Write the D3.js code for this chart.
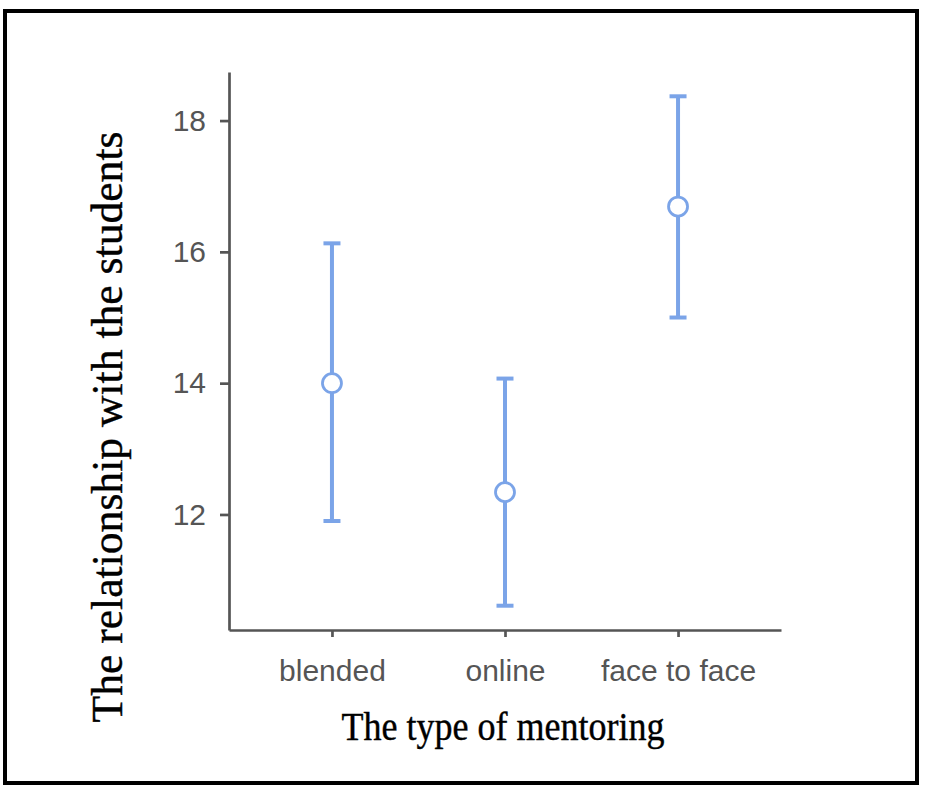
<!DOCTYPE html>
<html>
<head>
<meta charset="utf-8">
<script src="https://cdn.jsdelivr.net/npm/d3@7"></script>
<style>
  html, body { margin: 0; padding: 0; background: #fff; }
  svg { display: block; }
</style>
</head>
<body>
<svg id="chart" width="925" height="793"></svg>
<script>
const categories = ["blended", "online", "face to face"];
const means = [14.0, 12.34, 16.69];
const lower = [11.9, 10.61, 15.0];
const upper = [16.13, 14.07, 18.37];
const yTicks = [12, 14, 16, 18];
const xTitle = "The type of mentoring";
const yTitle = "The relationship with the students";

const svg = d3.select("#chart");
const blue = "#7ba4e8";
const axisGrey = "#555555";

// frame
svg.append("rect")
  .attr("x", 5).attr("y", 11).attr("width", 912).attr("height", 772)
  .attr("fill", "#fff").attr("stroke", "#000").attr("stroke-width", 4);

const x = d3.scalePoint().domain(categories).range([229, 781]).padding(0.595);
const y = d3.scaleLinear().domain([10.24, 18.74]).range([630, 72]);

// y axis
const gy = svg.append("g").attr("transform", "translate(229,0)")
  .call(d3.axisLeft(y).tickValues(yTicks).tickSize(9).tickSizeOuter(0).tickPadding(14).tickFormat(d3.format("d")));
gy.select(".domain").attr("stroke", axisGrey).attr("stroke-width", 2.7);
gy.selectAll(".tick line").attr("stroke", axisGrey).attr("stroke-width", 2.7);
gy.selectAll(".tick text").attr("fill", "#555").attr("font-family", "Liberation Sans, Arial, sans-serif").attr("font-size", 30);

// x axis
const gx = svg.append("g").attr("transform", "translate(0,630)")
  .call(d3.axisBottom(x).tickSize(7).tickSizeOuter(0).tickPadding(23));
gx.select(".domain").attr("stroke", axisGrey).attr("stroke-width", 2.7);
gx.selectAll(".tick line").attr("stroke", axisGrey).attr("stroke-width", 2.7);
gx.selectAll(".tick text").attr("fill", "#555").attr("font-family", "Liberation Sans, Arial, sans-serif").attr("font-size", 30);

const data = categories.map((c, i) => ({ c, m: means[i], lo: lower[i], hi: upper[i] }));

const g = svg.append("g");
// error bars
g.selectAll("line.bar").data(data).join("line").attr("class", "bar")
  .attr("x1", d => x(d.c)).attr("x2", d => x(d.c))
  .attr("y1", d => y(d.lo)).attr("y2", d => y(d.hi))
  .attr("stroke", blue).attr("stroke-width", 4);
g.selectAll("line.capTop").data(data).join("line").attr("class", "capTop")
  .attr("x1", d => x(d.c) - 8.5).attr("x2", d => x(d.c) + 8.5)
  .attr("y1", d => y(d.hi)).attr("y2", d => y(d.hi))
  .attr("stroke", blue).attr("stroke-width", 4);
g.selectAll("line.capBot").data(data).join("line").attr("class", "capBot")
  .attr("x1", d => x(d.c) - 8.5).attr("x2", d => x(d.c) + 8.5)
  .attr("y1", d => y(d.lo)).attr("y2", d => y(d.lo))
  .attr("stroke", blue).attr("stroke-width", 4);
g.selectAll("circle").data(data).join("circle")
  .attr("cx", d => x(d.c)).attr("cy", d => y(d.m)).attr("r", 9.5)
  .attr("fill", "#fff").attr("stroke", blue).attr("stroke-width", 2.8);

// titles
svg.append("text")
  .attr("x", 341.5).attr("y", 740)
  .attr("font-family", "Liberation Serif, Times New Roman, serif")
  .attr("font-size", 40).attr("fill", "#000")
  .attr("stroke", "#000").attr("stroke-width", 0.4)
  .attr("textLength", 323).attr("lengthAdjust", "spacingAndGlyphs")
  .text(xTitle);

svg.append("text")
  .attr("transform", "translate(122,722.5) rotate(-90)")
  .attr("font-family", "Liberation Serif, Times New Roman, serif")
  .attr("font-size", 44).attr("fill", "#000")
  .attr("stroke", "#000").attr("stroke-width", 0.4)
  .attr("textLength", 591).attr("lengthAdjust", "spacingAndGlyphs")
  .text(yTitle);
</script>
</body>
</html>
